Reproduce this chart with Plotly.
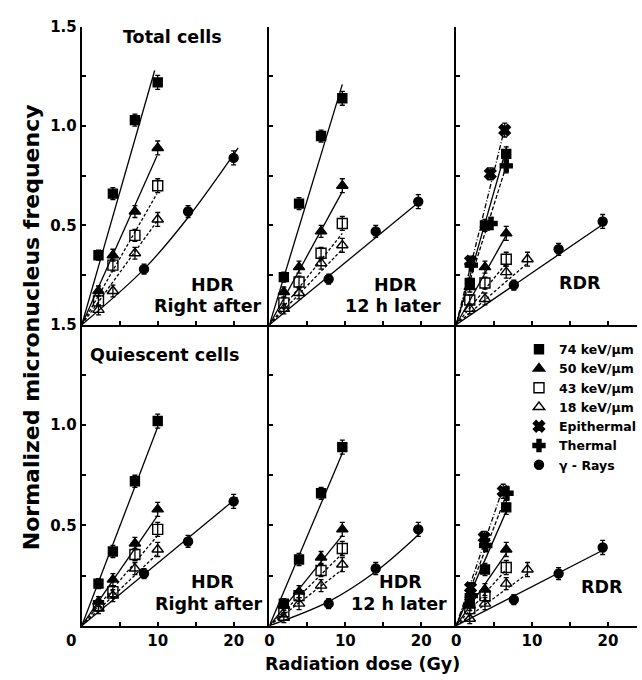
import plotly.graph_objects as go

# ---------------- data ----------------
HDR_DOSE_A = [2.2, 4.1, 7.0, 10.0]
HDR_DOSE_B = [1.9, 3.9, 6.8, 9.6]
GAM_DOSE_A = [8.2, 14.0, 20.0]
GAM_DOSE_B = [7.8, 14.0, 19.6]
RDR_DOSE = [1.8, 3.8, 6.6]
RDR_DOSE_18 = [1.8, 3.8, 6.6, 9.4]
RDR_EPI_T = [1.9, 4.5, 6.4]
RDR_EPI_Q = [1.9, 3.7, 6.2]
RDR_TH_T = [2.0, 4.6, 6.6]
RDR_TH_Q = [2.0, 3.9, 6.7]
RDR_GAM_DOSE = [7.6, 13.5, 19.3]

ERR_4 = [0.025, 0.03, 0.03, 0.035]
ERR_3 = [0.025, 0.03, 0.035]

# Total cells, HDR right after
TOT_A_74 = [0.35, 0.66, 1.03, 1.22]
TOT_A_50 = [0.17, 0.35, 0.57, 0.89]
TOT_A_43 = [0.12, 0.30, 0.45, 0.70]
TOT_A_18 = [0.075, 0.17, 0.36, 0.53]
TOT_A_G = [0.28, 0.57, 0.84]
# Total cells, HDR 12 h later
TOT_B_74 = [0.24, 0.61, 0.95, 1.14]
TOT_B_50 = [0.165, 0.29, 0.47, 0.70]
TOT_B_43 = [0.11, 0.215, 0.36, 0.51]
TOT_B_18 = [0.08, 0.16, 0.31, 0.40]
TOT_B_G = [0.23, 0.47, 0.62]
# Total cells, RDR
TOT_R_74 = [0.21, 0.50, 0.86]
TOT_R_50 = [0.19, 0.29, 0.46]
TOT_R_43 = [0.125, 0.21, 0.33]
TOT_R_18 = [0.08, 0.13, 0.265, 0.33]
TOT_R_EPI = [0.32, 0.76, 0.98]
TOT_R_TH = [0.30, 0.51, 0.80]
TOT_R_G = [0.20, 0.38, 0.52]
# Quiescent cells, HDR right after
Q_A_74 = [0.21, 0.37, 0.72, 1.02]
Q_A_50 = [0.12, 0.23, 0.41, 0.58]
Q_A_43 = [0.10, 0.17, 0.355, 0.48]
Q_A_18 = [0.085, 0.15, 0.285, 0.38]
Q_A_G = [0.26, 0.42, 0.62]
# Quiescent cells, HDR 12 h later
Q_B_74 = [0.11, 0.33, 0.66, 0.89]
Q_B_50 = [0.10, 0.17, 0.34, 0.48]
Q_B_43 = [0.07, 0.15, 0.275, 0.385]
Q_B_18 = [0.04, 0.11, 0.20, 0.305]
Q_B_G = [0.11, 0.285, 0.48]
# Quiescent cells, RDR
Q_R_74 = [0.12, 0.28, 0.59]
Q_R_50 = [0.10, 0.18, 0.38]
Q_R_43 = [0.085, 0.15, 0.29]
Q_R_18 = [0.035, 0.11, 0.21, 0.28]
Q_R_EPI = [0.19, 0.44, 0.67]
Q_R_TH = [0.15, 0.40, 0.66]
Q_R_G = [0.13, 0.26, 0.39]

# fitted curves
FIT_TOT_A = {
    "74": ([0, 9.6], [0, 1.28]), "50": ([0, 9.9], [0, 0.85]),
    "43": ([0, 9.9], [0, 0.66]), "18": ([0, 9.9], [0, 0.52]),
    "G": ([0, 8.2, 14, 20.6], [0, 0.28, 0.54, 0.89]),
}
FIT_TOT_B = {
    "74": ([0, 9.6], [0, 1.21]), "50": ([0, 9.6], [0, 0.67]),
    "43": ([0, 9.6], [0, 0.46]), "18": ([0, 9.6], [0, 0.38]),
    "G": ([0, 20.1], [0, 0.63]),
}
FIT_TOT_R = {
    "74": ([0, 6.7], [0, 0.90]), "50": ([0, 6.6], [0, 0.45]),
    "43": ([0, 6.6], [0, 0.31]), "18": ([0, 9.4], [0, 0.31]),
    "EPI": ([0, 6.4], [0, 0.99]), "TH": ([0, 6.6], [0, 0.80]),
    "G": ([0, 19.5], [0, 0.51]),
}
FIT_Q_A = {
    "74": ([0, 10], [0, 0.99]), "50": ([0, 10], [0, 0.55]),
    "43": ([0, 10], [0, 0.45]), "18": ([0, 10], [0, 0.36]),
    "G": ([0, 20.5], [0, 0.64]),
}
FIT_Q_B = {
    "74": ([0, 9.6], [0, 0.86]), "50": ([0, 9.6], [0, 0.45]),
    "43": ([0, 9.6], [0, 0.36]), "18": ([0, 9.6], [0, 0.28]),
    "G": ([0, 7.8, 14, 19.8], [0, 0.12, 0.27, 0.46]),
}
FIT_Q_R = {
    "74": ([0, 6.6], [0, 0.57]), "50": ([0, 6.6], [0, 0.36]),
    "43": ([0, 6.6], [0, 0.28]), "18": ([0, 9.4], [0, 0.26]),
    "EPI": ([0, 6.2], [0, 0.69]), "TH": ([0, 6.7], [0, 0.66]),
    "G": ([0, 19.5], [0, 0.38]),
}

LEGEND_LABELS = {
    "74": "74 keV/µm", "50": "50 keV/µm", "43": "43 keV/µm",
    "18": "18 keV/µm", "EPI": "Epithermal", "TH": "Thermal", "G": "γ - Rays",
}
LEGEND_ORDER = ["74", "50", "43", "18", "EPI", "TH", "G"]

Y_TICKS = [0, 0.25, 0.5, 0.75, 1.0, 1.25, 1.5]
Y_TICKTEXT = ["", "", "0.5", "", "1.0", "", "1.5"]
X_TICKS = [0, 5, 10, 15, 20]
X_TICKTEXT = ["0", "", "10", "", "20"]
X_TICKTEXT_FIRST = ["0&nbsp;&nbsp;&nbsp;&nbsp;", "", "10", "", "20"]

# ---------------- styles ----------------
STYLE = {
    "74": dict(symbol="square", size=9, dash="solid"),
    "50": dict(symbol="triangle-up", size=10, dash="solid"),
    "43": dict(symbol="square-open", size=10, dash="3px,2px"),
    "18": dict(symbol="triangle-up-open", size=10, dash="3px,2px"),
    "EPI": dict(symbol="x", size=10, dash="5px,2px,1px,2px"),
    "TH": dict(symbol="cross", size=10, dash="4px,2px"),
    "G": dict(symbol="circle", size=9, dash="solid"),
}

W, H = 642, 680
COL_PX = [(68, 262), (262, 455), (455, 642)]
ROW_PX = [(18, 320), (320, 625)]
PX_PER_GY = 7.85
FONT = "DejaVu Sans"

panels = [
    dict(r=0, c=0, fits=FIT_TOT_A, series=[
        ("74", HDR_DOSE_A, TOT_A_74, ERR_4), ("50", HDR_DOSE_A, TOT_A_50, ERR_4),
        ("43", HDR_DOSE_A, TOT_A_43, ERR_4), ("18", HDR_DOSE_A, TOT_A_18, ERR_4),
        ("G", GAM_DOSE_A, TOT_A_G, ERR_3)]),
    dict(r=0, c=1, fits=FIT_TOT_B, series=[
        ("74", HDR_DOSE_B, TOT_B_74, ERR_4), ("50", HDR_DOSE_B, TOT_B_50, ERR_4),
        ("43", HDR_DOSE_B, TOT_B_43, ERR_4), ("18", HDR_DOSE_B, TOT_B_18, ERR_4),
        ("G", GAM_DOSE_B, TOT_B_G, ERR_3)]),
    dict(r=0, c=2, fits=FIT_TOT_R, series=[
        ("74", RDR_DOSE, TOT_R_74, ERR_3), ("50", RDR_DOSE, TOT_R_50, ERR_3),
        ("43", RDR_DOSE, TOT_R_43, ERR_3), ("18", RDR_DOSE_18, TOT_R_18, ERR_4),
        ("EPI", RDR_EPI_T, TOT_R_EPI, ERR_3), ("TH", RDR_TH_T, TOT_R_TH, ERR_3),
        ("G", RDR_GAM_DOSE, TOT_R_G, ERR_3)]),
    dict(r=1, c=0, fits=FIT_Q_A, series=[
        ("74", HDR_DOSE_A, Q_A_74, ERR_4), ("50", HDR_DOSE_A, Q_A_50, ERR_4),
        ("43", HDR_DOSE_A, Q_A_43, ERR_4), ("18", HDR_DOSE_A, Q_A_18, ERR_4),
        ("G", GAM_DOSE_A, Q_A_G, ERR_3)]),
    dict(r=1, c=1, fits=FIT_Q_B, series=[
        ("74", HDR_DOSE_B, Q_B_74, ERR_4), ("50", HDR_DOSE_B, Q_B_50, ERR_4),
        ("43", HDR_DOSE_B, Q_B_43, ERR_4), ("18", HDR_DOSE_B, Q_B_18, ERR_4),
        ("G", GAM_DOSE_B, Q_B_G, ERR_3)]),
    dict(r=1, c=2, fits=FIT_Q_R, series=[
        ("74", RDR_DOSE, Q_R_74, ERR_3), ("50", RDR_DOSE, Q_R_50, ERR_3),
        ("43", RDR_DOSE, Q_R_43, ERR_3), ("18", RDR_DOSE_18, Q_R_18, ERR_4),
        ("EPI", RDR_EPI_Q, Q_R_EPI, ERR_3), ("TH", RDR_TH_Q, Q_R_TH, ERR_3),
        ("G", RDR_GAM_DOSE, Q_R_G, ERR_3)]),
]

fig = go.Figure()
layout = {}
for i, p in enumerate(panels):
    n = i + 1
    xa = "x" if n == 1 else f"x{n}"
    ya = "y" if n == 1 else f"y{n}"
    x0, x1 = COL_PX[p["c"]]
    yt, yb = ROW_PX[p["r"]]
    bottom = p["r"] == 1
    left = p["c"] == 0
    layout["xaxis" if n == 1 else f"xaxis{n}"] = dict(
        domain=[x0 / W, x1 / W], range=[0, (x1 - x0) / PX_PER_GY], anchor=ya,
        showgrid=False, zeroline=False, showline=True, linecolor="black", linewidth=2,
        ticks="inside", ticklen=4, tickwidth=1.5, tickcolor="black",
        tickvals=X_TICKS,
        ticktext=X_TICKTEXT_FIRST if (bottom and left) else X_TICKTEXT,
        showticklabels=bottom,
        tickfont=dict(family=FONT, size=15, color="black", weight="bold"),
    )
    layout["yaxis" if n == 1 else f"yaxis{n}"] = dict(
        domain=[(H - yb) / H, (H - yt) / H], range=[0, 1.5], anchor=xa,
        showgrid=False, zeroline=False, showline=True, linecolor="black", linewidth=2,
        ticks="inside", ticklen=4, tickwidth=1.5, tickcolor="black",
        tickvals=Y_TICKS, ticktext=Y_TICKTEXT, showticklabels=left,
        tickfont=dict(family=FONT, size=15, color="black", weight="bold"),
    )
    for key, (fx, fy) in p["fits"].items():
        st = STYLE[key]
        fig.add_trace(go.Scatter(
            x=fx, y=fy, xaxis=xa, yaxis=ya, mode="lines", showlegend=False,
            line=dict(color="black", width=1.3, dash=st["dash"], shape="spline"),
            hoverinfo="skip"))
    for key, xs, ys, err in p["series"]:
        st = STYLE[key]
        fig.add_trace(go.Scatter(
            x=xs, y=ys, xaxis=xa, yaxis=ya, mode="markers", showlegend=False,
            marker=dict(symbol=st["symbol"], size=st["size"], color="black",
                        line=dict(color="black", width=1.4)),
            error_y=dict(type="data", array=err[:len(ys)], color="black",
                         thickness=1.3, width=2.5)))

for key in LEGEND_ORDER:
    st = STYLE[key]
    fig.add_trace(go.Scatter(
        x=[None], y=[None], xaxis="x6", yaxis="y6", mode="markers",
        name=LEGEND_LABELS[key],
        marker=dict(symbol=st["symbol"], size=st["size"], color="black",
                    line=dict(color="black", width=1.4))))

def ann(text, xpx, ypx, size=17.5, angle=0):
    return dict(text=text, x=xpx / W, y=1 - ypx / H, xref="paper", yref="paper",
                showarrow=False, textangle=angle, xanchor="center", yanchor="middle",
                font=dict(family=FONT, size=size, color="black", weight="bold"))

annotations = [
    ann("Total cells", 162, 28),
    ann("Quiescent cells", 154, 351),
    ann("HDR", 203, 280), ann("Right after", 199, 301),
    ann("HDR", 392, 280), ann("12 h later", 390, 301),
    ann("RDR", 583, 278),
    ann("HDR", 203, 581), ann("Right after", 200, 603),
    ann("HDR", 398, 581), ann("12 h later", 396, 603),
    ann("RDR", 606, 586),
    ann("Normalized micronucleus frequency", 16, 322, size=22, angle=-90),
    ann("Radiation dose (Gy)", 358, 664, size=17.5),
]

fig.update_layout(
    width=W, height=H, margin=dict(l=0, r=0, t=0, b=0),
    paper_bgcolor="white", plot_bgcolor="white",
    annotations=annotations,
    legend=dict(x=520 / W, y=1 - 330 / H, xanchor="left", yanchor="top",
                bgcolor="rgba(0,0,0,0)", borderwidth=0, tracegroupgap=0,
                font=dict(family=FONT, size=12.5, color="black", weight="bold"),
                itemwidth=30),
    **layout,
)

fig.write_html("out.html", config={"displayModeBar": False},
               post_script="document.body.style.margin='0';document.body.style.overflow='hidden';")
